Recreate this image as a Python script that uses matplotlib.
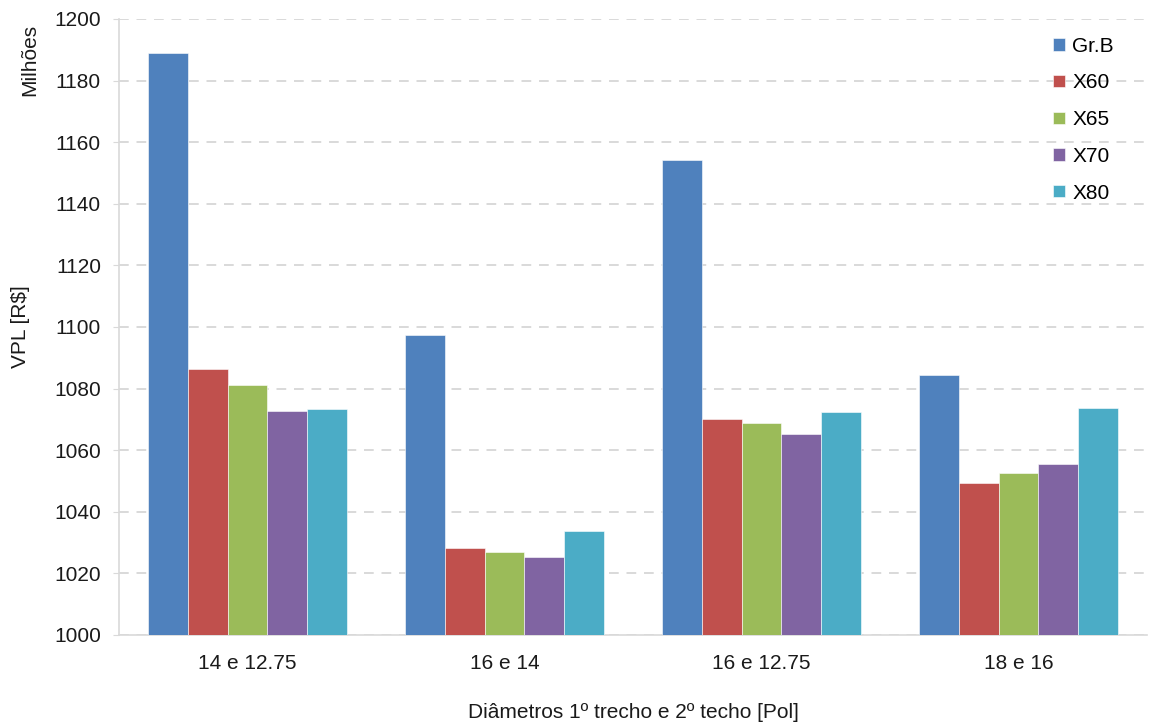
import numpy as np
import matplotlib
matplotlib.use('Agg')
import matplotlib.pyplot as plt

plt.rcParams['font.family'] = ['Liberation Sans', 'DejaVu Sans']

# --- data (in millions R$) ---
categories = ['14 e 12.75', '16 e 14', '16 e 12.75', '18 e 16']
series = ['Gr.B', 'X60', 'X65', 'X70', 'X80']
grb = [1188.8, 1097.5, 1154.3, 1084.4]
x60 = [1086.3, 1028.4, 1070.1, 1049.3]
x65 = [1081.2, 1027.1, 1068.8, 1052.5]
x70 = [1072.8, 1025.4, 1065.3, 1055.5]
x80 = [1073.3, 1033.7, 1072.4, 1073.6]
values = [grb, x60, x65, x70, x80]
colors = ['#4F81BD', '#C0504D', '#9BBB59', '#8064A2', '#4BACC6']

fig = plt.figure(figsize=(11.49, 7.24), dpi=100)
ax = fig.add_axes([119/1149, 1 - 635/724, (1147-119)/1149, (635-19)/724])

x = np.arange(len(categories))
w = 0.155
for i, (name, vals) in enumerate(zip(series, values)):
    ax.bar(x + (i - 2) * w, np.array(vals) - 1000, bottom=1000, width=w,
           color=colors[i], edgecolor='white', linewidth=0.4, label=name, zorder=3)

ax.set_xlim(-0.5, len(categories) - 0.5)
ax.set_ylim(1000, 1200)
ax.set_yticks(np.arange(1000, 1201, 20))
ax.set_xticks(x)
ax.set_xticklabels(categories)
ax.grid(axis='y', linestyle=(0, (5, 4)), color='#d9d9d9', linewidth=1.4, zorder=0)

for s in ['top', 'right']:
    ax.spines[s].set_visible(False)
for s in ['left', 'bottom']:
    ax.spines[s].set_color('#d9d9d9')
    ax.spines[s].set_linewidth(1.2)
ax.tick_params(axis='y', length=4, color='#d9d9d9', labelsize=15, pad=9, labelcolor='#1a1a1a')
ax.tick_params(axis='x', length=0, labelsize=15, pad=14, labelcolor='#1a1a1a')

ax.set_xlabel('Diâmetros 1º trecho e 2º techo [Pol]', fontsize=15, labelpad=21, color='#1a1a1a')
fig.text(20/1149, 1 - 327/724, 'VPL [R$]', rotation=90, fontsize=15, ha='center', va='center',
         color='#1a1a1a')
fig.text(30/1149, 1 - 60/724, 'Milhões', rotation=90, fontsize=15, ha='center', va='center',
         color='#1a1a1a')

leg = ax.legend(loc='upper right', bbox_to_anchor=(0.988, 1.005), frameon=False, fontsize=15,
                handlelength=0.55, handleheight=0.55, handletextpad=0.35, labelspacing=0.85,
                borderaxespad=0.6)

fig.savefig('out.png', dpi=100)
